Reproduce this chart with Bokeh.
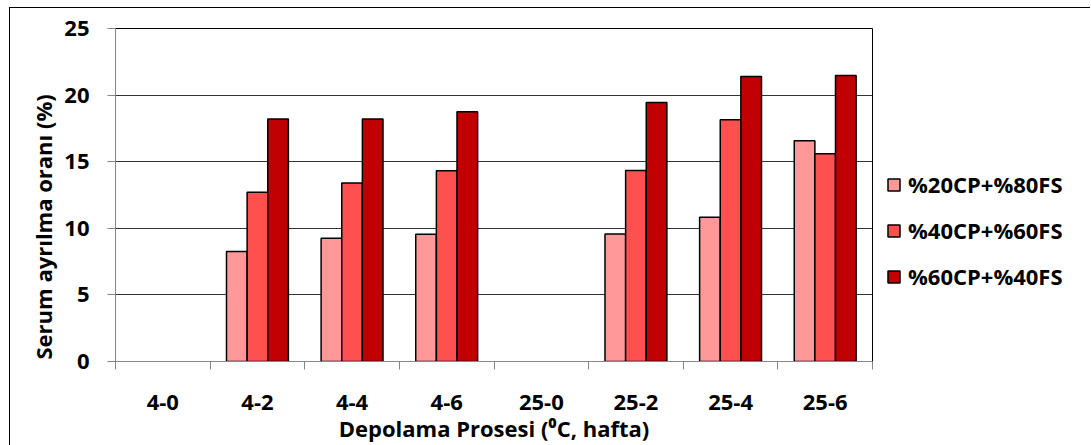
import math
from bokeh.plotting import figure
from bokeh.layouts import row
from bokeh.models import (ColumnDataSource, Range1d, LinearAxis, FixedTicker, Legend, LegendItem, Title)
from bokeh.transform import dodge
from bokeh.embed import file_html
from bokeh.resources import INLINE

categories = ["4-0", "4-2", "4-4", "4-6", "25-0", "25-2", "25-4", "25-6"]
series_names = ["%20CP+%80FS", "%40CP+%60FS", "%60CP+%40FS"]
s20 = [0, 8.25, 9.25, 9.55, 0, 9.57, 10.83, 16.57]
s40 = [0, 12.7, 13.4, 14.32, 0, 14.34, 18.15, 15.6]
s60 = [0, 18.2, 18.2, 18.75, 0, 19.45, 21.4, 21.47]
colors = ["#FF9999", "#FF5050", "#C00000"]
y_ticks = [0, 5, 10, 15, 20, 25]
x_title = "Depolama Prosesi (\u2070C, hafta)"
y_title = "Serum ayr\u0131lma oran\u0131 (%)"

FONT = "Open Sans"
FS = "22px"

def nz(v):
    return [float("nan") if x == 0 else x for x in v]

n = len(categories)
centers = [i + 0.5 for i in range(n)]
src = ColumnDataSource(dict(x=centers, a=nz(s20), b=nz(s40), c=nz(s60)))

p = figure(width=863, height=437, x_range=Range1d(0, n), y_range=Range1d(0, 25),
           output_backend="svg", toolbar_location=None, x_axis_location=None,
           min_border_left=105, min_border_right=1, min_border_top=20, min_border_bottom=80)

bw = 0.218
for i, (col, c) in enumerate(zip(["a", "b", "c"], colors)):
    p.vbar(x=dodge("x", (i - 1) * bw), top=col, width=bw, source=src,
           fill_color=c, line_color="black", line_width=1.5)

# boundary ticks axis
bax = LinearAxis(ticker=FixedTicker(ticks=list(range(n + 1))),
                 major_label_text_font_size="0px", major_tick_out=8, major_tick_in=0,
                 major_tick_line_color="#868686", axis_line_color="#868686",
                 minor_tick_line_color=None, major_label_standoff=0)
p.add_layout(bax, "below")

cax = LinearAxis(ticker=FixedTicker(ticks=centers),
                 major_label_overrides={c: lab for c, lab in zip(centers, categories)},
                 axis_line_color=None, major_tick_line_color=None, minor_tick_line_color=None,
                 major_label_text_font=FONT, major_label_text_font_size=FS,
                 major_label_text_font_style="bold", major_label_text_color="black",
                 major_label_standoff=19,
                 axis_label=x_title, axis_label_text_font=FONT, axis_label_text_font_size=FS,
                 axis_label_text_font_style="bold", axis_label_text_color="black",
                 axis_label_standoff=0)
p.add_layout(cax, "below")

p.yaxis.ticker = FixedTicker(ticks=y_ticks)
p.yaxis.major_label_text_font = FONT
p.yaxis.major_label_text_font_size = FS
p.yaxis.major_label_text_font_style = "bold"
p.yaxis.major_label_text_color = "black"
p.yaxis.major_tick_out = 8
p.yaxis.major_tick_in = 0
p.yaxis.major_tick_line_color = "#868686"
p.yaxis.minor_tick_line_color = None
p.yaxis.axis_line_color = "#868686"
p.yaxis.major_label_standoff = 18

p.xgrid.grid_line_color = None
p.ygrid.grid_line_color = "#333333"
p.ygrid.grid_line_width = 1
p.outline_line_color = "black"
p.outline_line_width = 1

p.add_layout(Title(text=y_title, align="left", offset=2, standoff=8,
                   text_font=FONT, text_font_size=FS, text_font_style="bold",
                   text_color="black"), "left")

# legend panel
p2 = figure(width=217, height=437, output_backend="svg", toolbar_location=None,
            x_axis_location=None, y_axis_location=None,
            x_range=Range1d(0, 1), y_range=Range1d(0, 1),
            min_border_left=0, min_border_right=0, min_border_top=0, min_border_bottom=0)
p2.grid.visible = False
p2.outline_line_color = None
leg_renderers = []
for c in colors:
    leg_renderers.append(p2.vbar(x=[0.5], top=[float("nan")], width=0.2, fill_color=c,
                                 line_color="black", line_width=1.5))

legend = Legend(items=[LegendItem(label=nm, renderers=[r]) for nm, r in zip(series_names, leg_renderers)],
                location=(13, 70), orientation="vertical",
                glyph_width=15, glyph_height=15, label_height=26, spacing=16,
                label_standoff=7, padding=0, margin=0,
                border_line_color=None, background_fill_alpha=0,
                label_text_font=FONT, label_text_font_size=FS, label_text_font_style="bold",
                label_text_color="black")
p2.add_layout(legend, "center")

layout = row(p, p2)
layout.styles = {"border-left": "1px solid #000", "border-top": "1px solid #000",
                 "margin-left": "9px", "margin-top": "7px"}

open("out.html", "w").write(file_html(layout, INLINE))
